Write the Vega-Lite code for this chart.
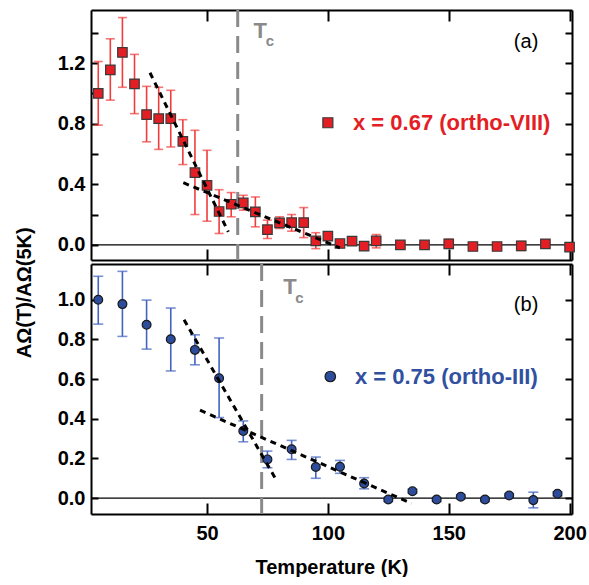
{
  "$schema": "https://vega.github.io/schema/vega-lite/v6.json",
  "padding": {"left": 15, "top": 8, "right": 0, "bottom": 0},
  "background": "white",
  "title": {"text": "AΩ(T)/AΩ(5K)", "orient": "left", "anchor": "middle", "font": "Liberation Sans", "fontSize": 20, "fontWeight": "bold", "color": "black", "offset": 22},
  "config": {
    "view": {"stroke": null},
    "font": "Liberation Sans",
    "axis": {"domainColor": "black", "domainWidth": 2, "tickColor": "black", "tickWidth": 2, "labelFont": "Liberation Sans", "labelFontWeight": "bold", "labelFontSize": 20, "labelColor": "black", "grid": false, "titleFont": "Liberation Sans", "titleFontWeight": "bold", "titleFontSize": 20, "titleColor": "black"},
    "axisX": {"tickSize": -11, "labelPadding": 20, "titlePadding": 14},
    "axisY": {"tickSize": -7, "labelPadding": 13}
  },
  "datasets": {
    "a": [
      {"T": 5, "v": 1.0, "lo": 0.79, "hi": 1.21},
      {"T": 10, "v": 1.155, "lo": 0.955, "hi": 1.36},
      {"T": 15, "v": 1.27, "lo": 1.04, "hi": 1.5},
      {"T": 20, "v": 1.063, "lo": 0.866, "hi": 1.257},
      {"T": 25, "v": 0.86, "lo": 0.68, "hi": 1.046},
      {"T": 30, "v": 0.833, "lo": 0.63, "hi": 1.04},
      {"T": 35, "v": 0.833, "lo": 0.646, "hi": 1.02},
      {"T": 40, "v": 0.683, "lo": 0.53, "hi": 0.826},
      {"T": 45, "v": 0.477, "lo": 0.2, "hi": 0.756},
      {"T": 50, "v": 0.393, "lo": 0.156, "hi": 0.624},
      {"T": 55, "v": 0.22, "lo": 0.075, "hi": 0.364},
      {"T": 60, "v": 0.268, "lo": 0.185, "hi": 0.345},
      {"T": 65, "v": 0.277, "lo": 0.229, "hi": 0.327},
      {"T": 70, "v": 0.218, "lo": 0.119, "hi": 0.316},
      {"T": 75, "v": 0.1, "lo": 0.042, "hi": 0.163},
      {"T": 80, "v": 0.145, "lo": 0.108, "hi": 0.185},
      {"T": 85, "v": 0.147, "lo": 0.09, "hi": 0.2},
      {"T": 90, "v": 0.147, "lo": 0.048, "hi": 0.246},
      {"T": 95, "v": 0.026, "lo": -0.025, "hi": 0.08},
      {"T": 100, "v": 0.057, "lo": 0.037, "hi": 0.077},
      {"T": 105, "v": 0.009, "lo": -0.003, "hi": 0.021},
      {"T": 110, "v": 0.024, "lo": 0.009, "hi": 0.039},
      {"T": 115, "v": -0.009, "lo": -0.021, "hi": 0.003},
      {"T": 120, "v": 0.026, "lo": -0.02, "hi": 0.068},
      {"T": 130, "v": 0.0, "lo": -0.015, "hi": 0.015},
      {"T": 140, "v": 0.0, "lo": -0.015, "hi": 0.015},
      {"T": 150, "v": 0.007, "lo": -0.023, "hi": 0.037},
      {"T": 160, "v": -0.011, "lo": -0.026, "hi": 0.004},
      {"T": 170, "v": -0.011, "lo": -0.026, "hi": 0.004},
      {"T": 180, "v": -0.007, "lo": -0.037, "hi": 0.023},
      {"T": 190, "v": 0.007, "lo": -0.008, "hi": 0.022},
      {"T": 200, "v": -0.015, "lo": -0.03, "hi": 0.0}
    ],
    "b": [
      {"T": 5, "v": 1.0, "lo": 0.877, "hi": 1.118},
      {"T": 15, "v": 0.978, "lo": 0.815, "hi": 1.143},
      {"T": 25, "v": 0.874, "lo": 0.751, "hi": 0.998},
      {"T": 35, "v": 0.801, "lo": 0.641, "hi": 0.958},
      {"T": 45, "v": 0.747, "lo": 0.672, "hi": 0.823},
      {"T": 55, "v": 0.604, "lo": 0.406, "hi": 0.807},
      {"T": 65, "v": 0.338, "lo": 0.284, "hi": 0.389},
      {"T": 75, "v": 0.195, "lo": 0.153, "hi": 0.237},
      {"T": 85, "v": 0.246, "lo": 0.195, "hi": 0.291},
      {"T": 95, "v": 0.157, "lo": 0.1, "hi": 0.207},
      {"T": 105, "v": 0.158, "lo": 0.125, "hi": 0.19},
      {"T": 115, "v": 0.074, "lo": 0.047, "hi": 0.103},
      {"T": 125, "v": -0.007, "lo": -0.017, "hi": 0.003},
      {"T": 135, "v": 0.035, "lo": 0.025, "hi": 0.045},
      {"T": 145, "v": -0.007, "lo": -0.017, "hi": 0.003},
      {"T": 155, "v": 0.007, "lo": -0.003, "hi": 0.017},
      {"T": 165, "v": -0.007, "lo": -0.017, "hi": 0.003},
      {"T": 175, "v": 0.013, "lo": 0.003, "hi": 0.023},
      {"T": 185, "v": -0.01, "lo": -0.049, "hi": 0.03},
      {"T": 195, "v": 0.022, "lo": 0.012, "hi": 0.032}
    ],
    "fitA": [
      {"T": 26.4, "v": 1.136, "seg": "steep"},
      {"T": 58.8, "v": 0.086, "seg": "steep"},
      {"T": 40.2, "v": 0.41, "seg": "slow"},
      {"T": 105, "v": -0.02, "seg": "slow"}
    ],
    "fitB": [
      {"T": 40.5, "v": 0.899, "seg": "steep"},
      {"T": 78.1, "v": 0.103, "seg": "steep"},
      {"T": 47.1, "v": 0.443, "seg": "slow"},
      {"T": 134.6, "v": -0.027, "seg": "slow"}
    ]
  },
  "spacing": 0,
  "vconcat": [
    {
      "width": 481,
      "height": 250,
      "resolve": {"axis": {"x": "independent", "y": "independent"}},
      "layer": [
        {
          "data": {"values": [{}]},
          "mark": {"type": "rule", "color": "black", "strokeWidth": 1.2},
          "encoding": {"y": {"datum": 0, "type": "quantitative", "axis": null}}
        },
        {
          "data": {"values": [{}]},
          "mark": {"type": "rule", "color": "#8a8a8a", "strokeWidth": 3, "strokeDash": [17, 9]},
          "encoding": {"x": {"datum": 62.7, "type": "quantitative", "axis": null}}
        },
        {
          "data": {"name": "a"},
          "mark": {"type": "errorbar", "ticks": true, "size": 9, "thickness": 1.6, "color": "#f03c3c"},
          "encoding": {
            "x": {"field": "T", "type": "quantitative", "axis": null},
            "y": {"field": "lo", "type": "quantitative", "axis": null},
            "y2": {"field": "hi"}
          }
        },
        {
          "data": {"name": "a"},
          "mark": {"type": "point", "shape": "square", "filled": true, "size": 90, "color": "#e31e24", "stroke": "#3a3a3a", "strokeWidth": 1.2, "opacity": 1},
          "encoding": {
            "x": {"field": "T", "type": "quantitative", "scale": {"domain": [2, 201], "nice": false, "zero": false}, "axis": {"orient": "bottom", "values": [50, 100, 150, 200], "labels": false, "title": null}},
            "y": {"field": "v", "type": "quantitative", "scale": {"domain": [-0.1, 1.55], "nice": false, "zero": false}, "axis": {"orient": "left", "values": [0, 0.2, 0.4, 0.6, 0.8, 1.0, 1.2, 1.4], "labelExpr": "round(datum.value*10) % 4 == 0 ? format(datum.value, '.1f') : ''", "title": null}}
          }
        },
        {
          "data": {"name": "fitA"},
          "mark": {"type": "line", "color": "black", "strokeWidth": 3, "strokeDash": [6, 5], "strokeCap": "butt"},
          "encoding": {
            "x": {"field": "T", "type": "quantitative", "axis": null},
            "y": {"field": "v", "type": "quantitative", "axis": null},
            "detail": {"field": "seg"}
          }
        },
        {
          "data": {"name": "a"},
          "mark": {"type": "point", "opacity": 0},
          "encoding": {
            "x": {"field": "T", "type": "quantitative", "axis": {"orient": "top", "values": [50, 100, 150, 200], "labels": false, "title": null}},
            "y": {"field": "v", "type": "quantitative", "axis": {"orient": "right", "values": [0, 0.2, 0.4, 0.6, 0.8, 1.0, 1.2, 1.4], "labels": false, "title": null}}
          }
        },
        {
          "data": {"values": [{}]},
          "mark": {"type": "text", "text": "T", "font": "Liberation Sans", "fontSize": 22, "fontWeight": "bold", "color": "#8a8a8a", "align": "center", "baseline": "middle"},
          "encoding": {"x": {"datum": 72, "type": "quantitative", "axis": null}, "y": {"datum": 1.41, "type": "quantitative", "axis": null}}
        },
        {
          "data": {"values": [{}]},
          "mark": {"type": "text", "text": "c", "font": "Liberation Sans", "fontSize": 15, "fontWeight": "bold", "color": "#8a8a8a", "align": "center", "baseline": "middle"},
          "encoding": {"x": {"datum": 76, "type": "quantitative", "axis": null}, "y": {"datum": 1.345, "type": "quantitative", "axis": null}}
        },
        {
          "data": {"values": [{}]},
          "mark": {"type": "text", "text": "(a)", "font": "Liberation Sans", "fontSize": 20, "color": "black", "align": "center", "baseline": "middle"},
          "encoding": {"x": {"datum": 182, "type": "quantitative", "axis": null}, "y": {"datum": 1.34, "type": "quantitative", "axis": null}}
        },
        {
          "data": {"values": [{}]},
          "mark": {"type": "point", "shape": "square", "filled": true, "size": 100, "color": "#e31e24", "stroke": "#3a3a3a", "strokeWidth": 1.2, "opacity": 1},
          "encoding": {"x": {"datum": 100, "type": "quantitative", "axis": null}, "y": {"datum": 0.806, "type": "quantitative", "axis": null}}
        },
        {
          "data": {"values": [{}]},
          "mark": {"type": "text", "text": "x = 0.67 (ortho-VIII)", "font": "Liberation Sans", "fontSize": 22, "fontWeight": "bold", "color": "#e31e24", "align": "left", "baseline": "middle"},
          "encoding": {"x": {"datum": 110.4, "type": "quantitative", "axis": null}, "y": {"datum": 0.806, "type": "quantitative", "axis": null}}
        }
      ]
    },
    {
      "width": 481,
      "height": 250,
      "resolve": {"axis": {"x": "independent", "y": "independent"}},
      "layer": [
        {
          "data": {"values": [{}]},
          "mark": {"type": "rule", "color": "black", "strokeWidth": 1.2},
          "encoding": {"y": {"datum": 0, "type": "quantitative", "axis": null}}
        },
        {
          "data": {"values": [{}]},
          "mark": {"type": "rule", "color": "#8a8a8a", "strokeWidth": 3, "strokeDash": [17, 9]},
          "encoding": {"x": {"datum": 72.6, "type": "quantitative", "axis": null}}
        },
        {
          "data": {"name": "b"},
          "mark": {"type": "errorbar", "ticks": true, "size": 10, "thickness": 1.6, "color": "#4263be"},
          "encoding": {
            "x": {"field": "T", "type": "quantitative", "axis": null},
            "y": {"field": "lo", "type": "quantitative", "axis": null},
            "y2": {"field": "hi"}
          }
        },
        {
          "data": {"name": "b"},
          "mark": {"type": "point", "shape": "circle", "filled": true, "size": 78, "color": "#2d4c9c", "stroke": "#1a1a1a", "strokeWidth": 1.2, "opacity": 1},
          "encoding": {
            "x": {"field": "T", "type": "quantitative", "scale": {"domain": [2, 201], "nice": false, "zero": false}, "axis": {"orient": "bottom", "values": [50, 100, 150, 200], "title": "Temperature (K)"}},
            "y": {"field": "v", "type": "quantitative", "scale": {"domain": [-0.08, 1.18], "nice": false, "zero": false}, "axis": {"orient": "left", "values": [0, 0.2, 0.4, 0.6, 0.8, 1.0], "format": ".1f", "title": null}}
          }
        },
        {
          "data": {"name": "fitB"},
          "mark": {"type": "line", "color": "black", "strokeWidth": 3, "strokeDash": [6, 5], "strokeCap": "butt"},
          "encoding": {
            "x": {"field": "T", "type": "quantitative", "axis": null},
            "y": {"field": "v", "type": "quantitative", "axis": null},
            "detail": {"field": "seg"}
          }
        },
        {
          "data": {"name": "b"},
          "mark": {"type": "point", "opacity": 0},
          "encoding": {
            "x": {"field": "T", "type": "quantitative", "axis": {"orient": "top", "values": [50, 100, 150, 200], "labels": false, "title": null}},
            "y": {"field": "v", "type": "quantitative", "axis": {"orient": "right", "values": [0, 0.2, 0.4, 0.6, 0.8, 1.0], "labels": false, "title": null}}
          }
        },
        {
          "data": {"values": [{}]},
          "mark": {"type": "text", "text": "T", "font": "Liberation Sans", "fontSize": 22, "fontWeight": "bold", "color": "#8a8a8a", "align": "center", "baseline": "middle"},
          "encoding": {"x": {"datum": 84.3, "type": "quantitative", "axis": null}, "y": {"datum": 1.066, "type": "quantitative", "axis": null}}
        },
        {
          "data": {"values": [{}]},
          "mark": {"type": "text", "text": "c", "font": "Liberation Sans", "fontSize": 15, "fontWeight": "bold", "color": "#8a8a8a", "align": "center", "baseline": "middle"},
          "encoding": {"x": {"datum": 88.2, "type": "quantitative", "axis": null}, "y": {"datum": 1.008, "type": "quantitative", "axis": null}}
        },
        {
          "data": {"values": [{}]},
          "mark": {"type": "text", "text": "(b)", "font": "Liberation Sans", "fontSize": 20, "color": "black", "align": "center", "baseline": "middle"},
          "encoding": {"x": {"datum": 182, "type": "quantitative", "axis": null}, "y": {"datum": 0.975, "type": "quantitative", "axis": null}}
        },
        {
          "data": {"values": [{}]},
          "mark": {"type": "point", "shape": "circle", "filled": true, "size": 110, "color": "#2d4c9c", "stroke": "#1a1a1a", "strokeWidth": 1.2, "opacity": 1},
          "encoding": {"x": {"datum": 101, "type": "quantitative", "axis": null}, "y": {"datum": 0.613, "type": "quantitative", "axis": null}}
        },
        {
          "data": {"values": [{}]},
          "mark": {"type": "text", "text": "x = 0.75 (ortho-III)", "font": "Liberation Sans", "fontSize": 22, "fontWeight": "bold", "color": "#3150a0", "align": "left", "baseline": "middle"},
          "encoding": {"x": {"datum": 111.2, "type": "quantitative", "axis": null}, "y": {"datum": 0.613, "type": "quantitative", "axis": null}}
        }
      ]
    }
  ]
}
